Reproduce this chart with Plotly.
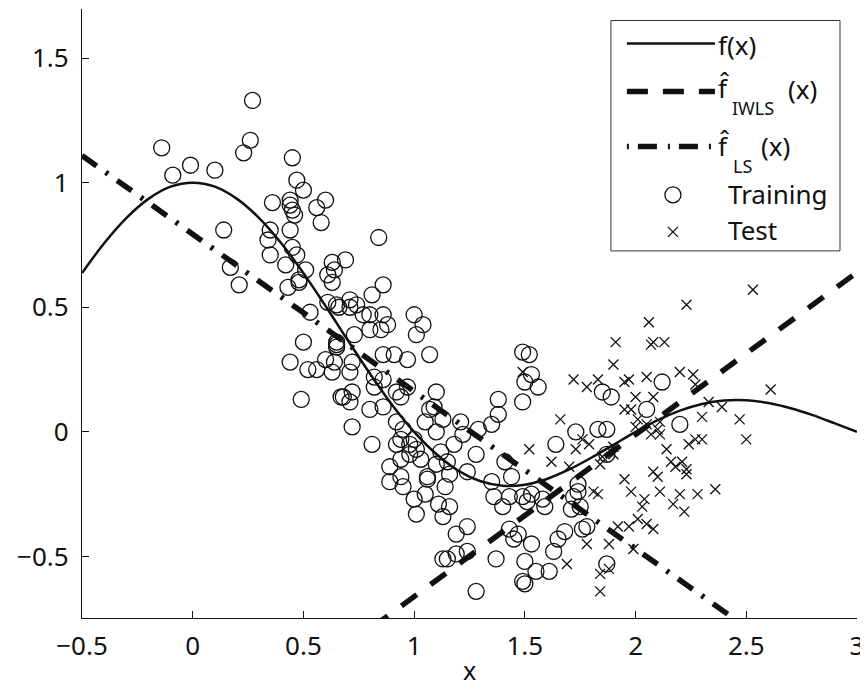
import plotly.graph_objects as go

f_x = [-0.5, -0.4, -0.3, -0.2, -0.1, 0.0, 0.1, 0.2, 0.3, 0.4, 0.5, 0.6, 0.7, 0.8, 0.9, 1.0,
       1.1, 1.2, 1.3, 1.4, 1.5, 1.6, 1.7, 1.8, 1.9, 2.0, 2.1, 2.2, 2.3, 2.4, 2.5, 2.6, 2.7,
       2.8, 2.9, 3.0]
f_y = [0.637, 0.757, 0.858, 0.935, 0.984, 1.0, 0.984, 0.935, 0.858, 0.757, 0.637, 0.505,
       0.368, 0.234, 0.109, 0.0, -0.089, -0.156, -0.198, -0.216, -0.212, -0.189, -0.151,
       -0.104, -0.052, 0.0, 0.047, 0.085, 0.112, 0.126, 0.127, 0.116, 0.095, 0.067, 0.034, 0.0]

# fitted lines (endpoints)
iwls_x = [-0.5, 3.0]
iwls_y = [-1.637, 0.64]
ls_x = [-0.5, 3.0]
ls_y = [1.109, -1.10]

train_x = [0.27, -0.14, 0.26, 0.23, 0.45, -0.01, -0.09, 0.10, 0.47, 0.50, 0.60, 0.36, 0.44, 0.44,
           0.45, 0.46, 0.56, 0.58, 0.14, 0.35, 0.34, 0.44, 0.45, 0.47, 0.35, 0.42, 0.51, 0.48,
           0.63, 0.64, 0.61, 0.63, 0.17, 0.21, 0.43, 0.84, 0.69, 0.86, 0.81, 0.48, 0.53, 0.61,
           0.65, 0.50, 0.44, 0.52, 0.56, 0.60, 0.63, 0.65, 0.65, 0.49, 0.67, 0.71, 0.74, 0.71,
           0.66, 0.77, 0.80, 0.86, 0.80, 0.85, 0.88, 1.00, 1.04, 1.01, 0.73, 0.65, 0.64, 0.86,
           0.91, 0.97, 1.07, 0.72, 0.71, 0.82, 0.86, 0.82, 0.92, 0.94, 0.97, 0.68, 0.72, 0.71,
           0.80, 0.86, 1.10, 1.09, 1.07, 1.13, 1.05, 1.10, 1.21, 1.22, 1.18, 1.38, 1.38, 1.35,
           1.29, 0.72, 0.81, 0.92, 0.95, 0.94, 0.92, 0.98, 1.00, 1.01, 0.98, 1.03, 0.94, 1.12,
           1.15, 1.28, 1.24, 1.41, 0.89, 0.94, 1.06, 1.10, 1.49, 1.50, 1.49, 1.52, 1.53, 1.56,
           1.85, 1.89, 2.12, 2.05, 2.20, 1.73, 1.83, 1.87, 1.64, 1.87, 1.53, 1.58, 1.59, 1.51,
           1.74, 1.74, 1.72, 1.71, 1.75, 1.76, 1.78, 1.68, 1.65, 1.63, 1.53, 1.50, 1.55, 1.61,
           1.50, 1.87, 0.89, 0.95, 1.00, 1.05, 1.06, 1.14, 1.16, 1.01, 1.11, 1.16, 1.13, 1.19,
           1.24, 1.13, 1.15, 1.19, 1.24, 1.28, 1.37, 1.35, 1.36, 1.40, 1.43, 1.44, 1.43, 1.47,
           1.45, 1.49, 1.49]
train_y = [1.33, 1.14, 1.17, 1.12, 1.10, 1.07, 1.03, 1.05, 1.01, 0.97, 0.93, 0.92, 0.93, 0.91,
           0.89, 0.87, 0.90, 0.84, 0.81, 0.81, 0.77, 0.81, 0.74, 0.71, 0.71, 0.67, 0.65, 0.61,
           0.68, 0.65, 0.63, 0.60, 0.66, 0.59, 0.58, 0.78, 0.69, 0.59, 0.55, 0.60, 0.48, 0.52,
           0.51, 0.36, 0.28, 0.25, 0.25, 0.29, 0.24, 0.36, 0.34, 0.13, 0.14, 0.53, 0.51, 0.50,
           0.50, 0.47, 0.47, 0.47, 0.41, 0.41, 0.43, 0.47, 0.43, 0.39, 0.39, 0.35, 0.28, 0.31,
           0.31, 0.29, 0.31, 0.28, 0.24, 0.22, 0.21, 0.18, 0.16, 0.14, 0.18, 0.14, 0.16, 0.12,
           0.09, 0.10, 0.16, 0.10, 0.09, 0.05, 0.04, 0.00, 0.04, -0.01, -0.05, 0.13, 0.07, 0.03,
           0.01, 0.02, -0.05, 0.04, 0.01, -0.03, -0.05, -0.05, -0.03, -0.07, -0.09, -0.11, -0.11,
           -0.08, -0.12, -0.09, -0.16, -0.12, -0.14, -0.18, -0.18, -0.13, 0.32, 0.20, 0.12, 0.31,
           0.23, 0.18, 0.16, 0.14, 0.20, 0.09, 0.03, 0.00, 0.01, 0.01, -0.05, -0.09, -0.25, -0.27,
           -0.30, -0.28, -0.21, -0.24, -0.26, -0.31, -0.30, -0.39, -0.38, -0.40, -0.43, -0.48,
           -0.45, -0.52, -0.56, -0.56, -0.61, -0.53, -0.20, -0.22, -0.27, -0.25, -0.19, -0.22,
           -0.17, -0.33, -0.29, -0.30, -0.34, -0.41, -0.38, -0.51, -0.51, -0.49, -0.48, -0.64,
           -0.51, -0.20, -0.26, -0.30, -0.26, -0.18, -0.39, -0.41, -0.43, -0.26, -0.60]

test_x = [2.23, 2.06, 1.91, 2.07, 2.08, 2.13, 1.90, 1.72, 1.83, 1.78, 1.95, 1.97, 2.05, 2.20,
          2.26, 2.27, 2.00, 2.08, 1.95, 1.98, 2.33, 2.30, 1.66, 2.01, 2.05, 2.00, 2.11, 2.10,
          2.07, 2.11, 1.52, 1.76, 1.79, 1.73, 1.90, 1.90, 1.85, 1.62, 1.70, 1.84, 2.14, 2.16,
          2.21, 2.23, 2.18, 2.24, 2.27, 1.95, 2.08, 2.10, 2.53, 2.61, 2.39, 2.47, 2.50, 2.30,
          1.98, 2.11, 2.20, 2.28, 2.36, 2.04, 2.03, 2.17, 2.22, 1.83, 1.81, 2.23, 1.92, 2.01,
          1.97, 2.05, 2.08, 1.88, 1.78, 1.99, 1.69, 1.84, 1.88, 1.84, 1.49]
test_y = [0.51, 0.44, 0.36, 0.35, 0.36, 0.36, 0.27, 0.21, 0.21, 0.18, 0.20, 0.21, 0.22, 0.24,
          0.23, 0.19, 0.14, 0.14, 0.09, 0.09, 0.12, 0.06, 0.05, 0.05, 0.03, 0.02, 0.04, 0.01,
          -0.01, -0.01, -0.07, -0.03, -0.05, -0.07, -0.06, -0.09, -0.10, -0.12, -0.14, -0.13,
          -0.07, -0.12, -0.12, -0.15, -0.14, -0.05, -0.03, -0.19, -0.16, -0.18, 0.57, 0.17,
          0.10, 0.05, -0.03, -0.03, -0.24, -0.24, -0.25, -0.25, -0.23, -0.27, -0.30, -0.29,
          -0.32, -0.25, -0.24, -0.17, -0.38, -0.35, -0.38, -0.37, -0.39, -0.45, -0.45, -0.47,
          -0.53, -0.57, -0.55, -0.64, 0.24]

# tick values
x_ticks = [-0.5, 0, 0.5, 1, 1.5, 2, 2.5, 3]
y_ticks = [-0.5, 0, 0.5, 1, 1.5]

INK = "#111111"
FONT = "Noto Sans"
FS = 26

# plot area in page pixels (the legend is laid out in this pixel frame)
PX0, PX1, PY0, PY1 = 82.3, 857.0, 9.0, 618.3

IWLS_DASH = "19px,17px"
LS_DASH = "18px,11px,3px,11px"

fig = go.Figure()
fig.add_trace(go.Scatter(x=f_x, y=f_y, mode="lines", name="f(x)", showlegend=False,
                         line=dict(color=INK, width=2.5, shape="spline")))
fig.add_trace(go.Scatter(x=iwls_x, y=iwls_y, mode="lines", name="f_IWLS", showlegend=False,
                         line=dict(color=INK, width=5.5, dash=IWLS_DASH)))
fig.add_trace(go.Scatter(x=ls_x, y=ls_y, mode="lines", name="f_LS", showlegend=False,
                         line=dict(color=INK, width=5.5, dash=LS_DASH)))
fig.add_trace(go.Scatter(x=train_x, y=train_y, mode="markers", name="Training", showlegend=False,
                         marker=dict(symbol="circle-open", size=16, color=INK,
                                     line=dict(width=1.3, color=INK))))
fig.add_trace(go.Scatter(x=test_x, y=test_y, mode="markers", name="Test", showlegend=False,
                         marker=dict(symbol="x-thin-open", size=10, color=INK,
                                     line=dict(width=1.3, color=INK))))

# ---- legend box drawn on an overlay axis in pixel units ----
BX0, BX1, BY0, BY1 = 611, 840, 20.5, 251
LX0, LX1, SX = 627, 715, 673
rows = [43.5, 91.5, 146.5, 195, 232]
lg = dict(xaxis="x2", yaxis="y2", showlegend=False, hoverinfo="skip")
fig.add_trace(go.Scatter(x=[BX0, BX1, BX1, BX0, BX0], y=[BY0, BY0, BY1, BY1, BY0],
                         mode="lines", fill="toself", fillcolor="white",
                         line=dict(color="#333333", width=1), **lg))
fig.add_trace(go.Scatter(x=[LX0, LX1], y=[rows[0]] * 2, mode="lines",
                         line=dict(color=INK, width=2.5), **lg))
fig.add_trace(go.Scatter(x=[LX0, LX1], y=[rows[1]] * 2, mode="lines",
                         line=dict(color=INK, width=5.5, dash="21px,15px"), **lg))
fig.add_trace(go.Scatter(x=[LX0, LX1], y=[rows[2]] * 2, mode="lines",
                         line=dict(color=INK, width=5.5, dash="2px,9px,19px,11px"), **lg))
fig.add_trace(go.Scatter(x=[SX], y=[rows[3]], mode="markers",
                         marker=dict(symbol="circle-open", size=16, color=INK,
                                     line=dict(width=1.3, color=INK)), **lg))
fig.add_trace(go.Scatter(x=[SX], y=[rows[4]], mode="markers",
                         marker=dict(symbol="x-thin-open", size=10, color=INK,
                                     line=dict(width=1.3, color=INK)), **lg))

# legend texts: (text, x, y, size)
legend_texts = [
    ("f(x)", 716, 45, FS),
    ("f\u0302", 716, 88, FS), ("IWLS", 730, 108, 18), ("(x)", 786, 89, FS),
    ("f\u0302", 716, 146, FS), ("LS", 731, 166, 18), ("(x)", 759, 146, FS),
    ("Training", 726, 194, FS),
    ("Test", 726, 230, FS),
]
for lab, tx, ty, sz in legend_texts:
    fig.add_annotation(x=tx, y=ty, xref="x2", yref="y2", text=lab, showarrow=False,
                       xanchor="left", yanchor="middle", font=dict(size=sz, color=INK))

axis_style = dict(ticks="inside", ticklen=7, tickcolor=INK, tickwidth=1.2, showline=True,
                  linecolor=INK, linewidth=1.2, showgrid=False, zeroline=False, mirror=False)

fig.update_layout(
    width=868, height=690,
    margin=dict(l=PX0 - 8, r=868 - (PX1 - 8), t=PY0 - 8, b=690 - (PY1 - 8)),
    paper_bgcolor="white", plot_bgcolor="white",
    font=dict(family=FONT, size=FS, color=INK),
    showlegend=False,
    xaxis=dict(range=[-0.5, 3], tickvals=x_ticks, ticklabelstandoff=5,
               title=dict(text="x", font=dict(size=25), standoff=0), **axis_style),
    yaxis=dict(range=[-0.747, 1.697], tickvals=y_ticks, ticklabelstandoff=7, **axis_style),
    xaxis2=dict(overlaying="x", range=[PX0, PX1], visible=False, fixedrange=True),
    yaxis2=dict(overlaying="y", range=[PY1, PY0], visible=False, fixedrange=True),
)

fig.write_html("out.html")
